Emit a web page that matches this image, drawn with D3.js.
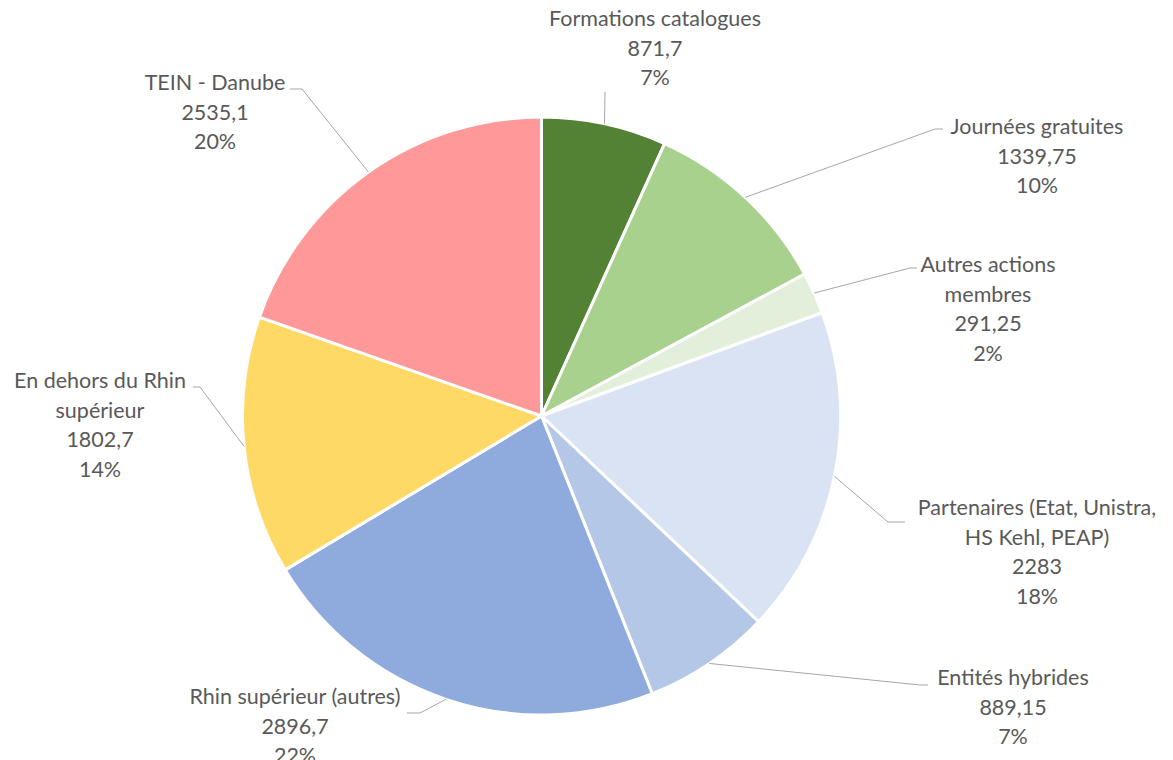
<!DOCTYPE html>
<meta charset="utf-8">
<script src="https://d3js.org/d3.v7.min.js"></script>
<style>
body{margin:0;background:#fff;}
svg text{font-family:Lato, "Noto Sans", sans-serif;font-size:21.5px;fill:#595959;}
</style>
<div id="chart"></div>
<script>
// data
const labels = [
  ["Formations catalogues"],
  ["Journées gratuites"],
  ["Autres actions", "membres"],
  ["Partenaires (Etat, Unistra,", "HS Kehl, PEAP)"],
  ["Entités hybrides"],
  ["Rhin supérieur (autres)"],
  ["En dehors du Rhin", "supérieur"],
  ["TEIN - Danube"]
];
const values = [871.7, 1339.75, 291.25, 2283, 889.15, 2896.7, 1802.7, 2535.1];
const valueText = ["871,7", "1339,75", "291,25", "2283", "889,15", "2896,7", "1802,7", "2535,1"];
const colors = ["#548235", "#A9D18E", "#E2EFDA", "#DAE3F3", "#B4C7E7", "#8FAADC", "#FFD966", "#FF9999"];

// label layout: text centre x, first baseline y, leader end (lx,ly), short horizontal to hx
const labelPos = [
  {x:655, y:26,  lx:605, ly:92,  hx:605},
  {x:1037, y:134, lx:935, ly:129, hx:943},
  {x:988, y:272, lx:910, ly:268, hx:917},
  {x:1037, y:515, lx:888, ly:522, hx:905},
  {x:1013, y:685, lx:920, ly:685, hx:928},
  {x:295, y:704, lx:420, ly:713, hx:407},
  {x:100, y:388, lx:200, ly:387, hx:193},
  {x:215, y:90,  lx:302, ly:89,  hx:290}
];

const width = 1173, height = 760;
const cx = 541.5, cy = 416, r = 299;
const total = d3.sum(values);

const svg = d3.select("#chart").append("svg")
  .attr("width", width).attr("height", height);

const pie = d3.pie().sort(null).value(d => d);
const arcs = pie(values);
const arc = d3.arc().innerRadius(0).outerRadius(r);

const g = svg.append("g").attr("transform", `translate(${cx},${cy})`);
g.selectAll("path.slice").data(arcs).enter().append("path")
  .attr("class", "slice")
  .attr("d", arc)
  .attr("fill", (d, i) => colors[i])
  .attr("stroke", "#fff")
  .attr("stroke-width", 3)
  .attr("stroke-linejoin", "round");

// leader lines
arcs.forEach((d, i) => {
  const a = (d.startAngle + d.endAngle) / 2;
  const sx = cx + r * Math.sin(a), sy = cy - r * Math.cos(a);
  const p = labelPos[i];
  svg.append("polyline")
    .attr("points", `${sx},${sy} ${p.lx},${p.ly} ${p.hx},${p.ly}`)
    .attr("fill", "none")
    .attr("stroke", "#a6a6a6")
    .attr("stroke-width", 1);
});

// labels
arcs.forEach((d, i) => {
  const p = labelPos[i];
  const lines = labels[i].concat([valueText[i], Math.round(values[i] / total * 100) + "%"]);
  const t = svg.append("text").attr("text-anchor", "middle");
  lines.forEach((s, k) => {
    t.append("tspan").attr("x", p.x).attr("y", p.y + k * 29.5).text(s);
  });
});
</script>
